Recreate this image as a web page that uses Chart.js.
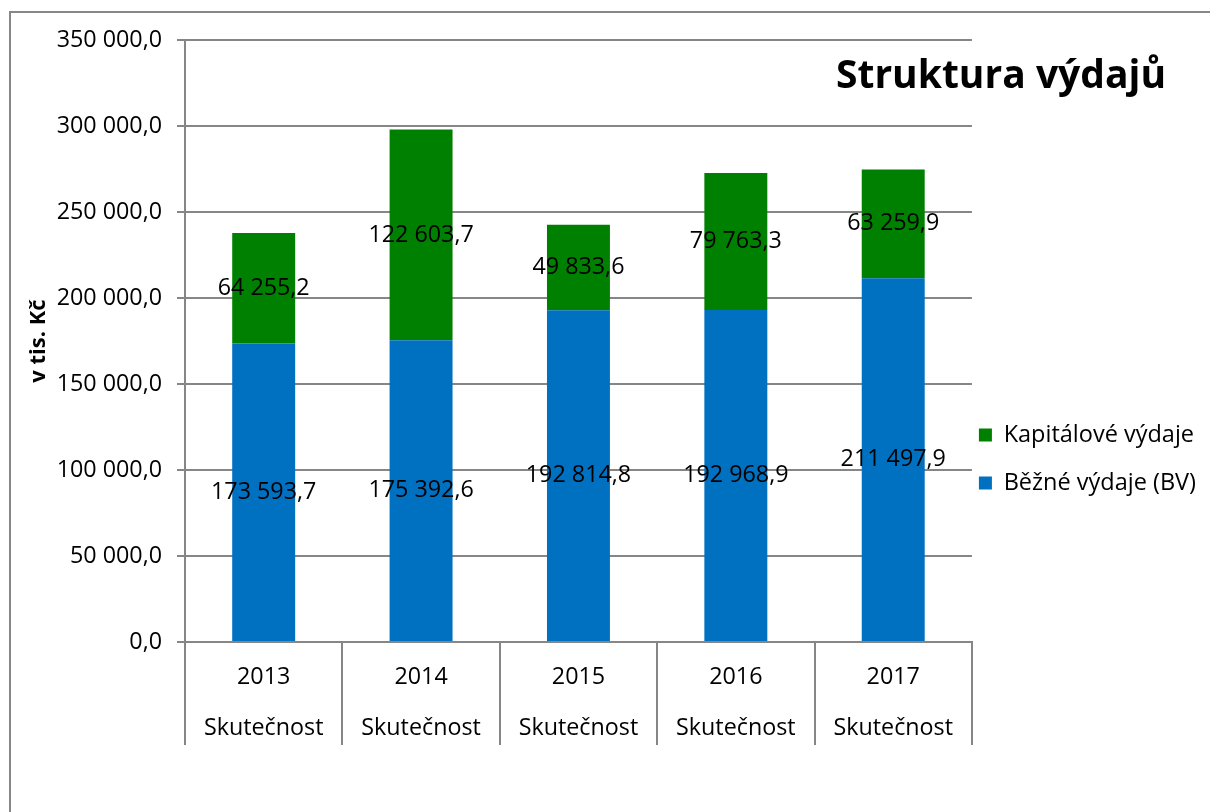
<!DOCTYPE html>
<html lang="cs">
<head>
    <meta charset="UTF-8">
    <title>Struktura výdajů</title>
    <script src="https://cdn.jsdelivr.net/npm/chart.js"></script>
    <style>
        html, body { margin: 0; padding: 0; background: #fff; overflow: hidden; }
        #frame {
            position: absolute; left: 9px; top: 11px; width: 1400px; height: 1000px;
            border: 2px solid #878787; box-sizing: border-box;
        }
        #wrap { position: absolute; left: 0; top: 0; width: 1210px; height: 812px; }
    </style>
</head>
<body>
    <div id="frame"></div>
    <div id="wrap"><canvas id="vydajeChart" width="1210" height="812"></canvas></div>
    <script>
    // data
    const roky = ['2013', '2014', '2015', '2016', '2017'];
    const typ = 'Skutečnost';
    const bezneVydaje = [173593.7, 175392.6, 192814.8, 192968.9, 211497.9];
    const kapitaloveVydaje = [64255.2, 122603.7, 49833.6, 79763.3, 63259.9];
    const yMax = 350000;
    const yKrok = 50000;

    const seda = '#868686';
    const pismo = '"Open Sans", sans-serif';
    const velikost = 23.3;
    const velikostLegendy = 23.5;

    // 173593.7 -> "173 593,7"
    function formatCislo(n) {
        const [cela, des] = n.toFixed(1).split('.');
        return cela.replace(/\B(?=(\d{3})+(?!\d))/g, ' ') + ',' + des;
    }

    // popisky hodnot uprostřed segmentů + nadpis v ploše grafu
    const popiskyPlugin = {
        id: 'popisky',
        afterDatasetsDraw(chart) {
            const ctx = chart.ctx;
            ctx.save();
            ctx.font = velikost + 'px ' + pismo;
            ctx.fillStyle = '#000';
            ctx.textAlign = 'center';
            ctx.textBaseline = 'middle';
            chart.data.datasets.forEach((ds, di) => {
                const meta = chart.getDatasetMeta(di);
                meta.data.forEach((bar, i) => {
                    const p = bar.getProps(['x', 'y', 'base'], true);
                    ctx.fillText(formatCislo(ds.data[i]), p.x, (p.y + p.base) / 2);
                });
            });
            ctx.font = 'bold 39px ' + pismo;
            ctx.textAlign = 'left';
            ctx.textBaseline = 'alphabetic';
            ctx.fillText('Struktura výdajů', 836, 88);
            ctx.restore();
        }
    };

    document.addEventListener('DOMContentLoaded', function() {
        new Chart(document.getElementById('vydajeChart').getContext('2d'), {
            type: 'bar',
            data: {
                labels: roky.map(r => [r, typ]),
                datasets: [{
                    label: 'Běžné výdaje (BV)',
                    data: bezneVydaje,
                    backgroundColor: '#0070C0'
                }, {
                    label: 'Kapitálové výdaje',
                    data: kapitaloveVydaje,
                    backgroundColor: '#008000'
                }]
            },
            options: {
                responsive: false,
                animation: false,
                layout: { padding: { top: 40, bottom: 58.5, left: 26, right: 4 } },
                datasets: { bar: { barPercentage: 0.5, categoryPercentage: 0.8 } },
                scales: {
                    x: {
                        stacked: true,
                        afterFit(scale) { scale.height = 111.5; },
                        grid: { offset: true, drawOnChartArea: false, tickLength: 103, color: seda, lineWidth: 2 },
                        border: { color: seda, width: 2 },
                        ticks: {
                            color: '#000',
                            padding: -93.5,
                            maxRotation: 0,
                            font: { family: pismo, size: velikost, lineHeight: 51 / velikost }
                        }
                    },
                    y: {
                        stacked: true,
                        min: 0,
                        max: yMax,
                        afterFit(scale) { scale.width = 159; },
                        grid: { color: seda, tickLength: 8, lineWidth: 2 },
                        border: { color: seda, width: 2 },
                        ticks: {
                            stepSize: yKrok,
                            color: '#000',
                            padding: 15,
                            font: { family: pismo, size: velikost },
                            callback: v => formatCislo(v)
                        },
                        title: {
                            display: true,
                            text: 'v tis. Kč',
                            color: '#000',
                            padding: { top: 0, bottom: 0 },
                            font: { family: pismo, size: 22, weight: 'bold' }
                        }
                    }
                },
                plugins: {
                    tooltip: { enabled: false },
                    legend: {
                        position: 'right',
                        reverse: true,
                        title: { display: true, text: ' ', font: { size: 10 }, padding: { top: 0, bottom: 130 } },
                        labels: {
                            color: '#000',
                            boxWidth: 13,
                            boxHeight: 13,
                            padding: 7,
                            font: { family: pismo, size: velikostLegendy, lineHeight: 41 / velikostLegendy },
                            generateLabels(chart) {
                                return Chart.defaults.plugins.legend.labels.generateLabels(chart)
                                    .map(l => Object.assign(l, { text: [l.text], lineWidth: 0 }));
                            }
                        }
                    }
                }
            },
            plugins: [popiskyPlugin]
        });
    });
    </script>
</body>
</html>
